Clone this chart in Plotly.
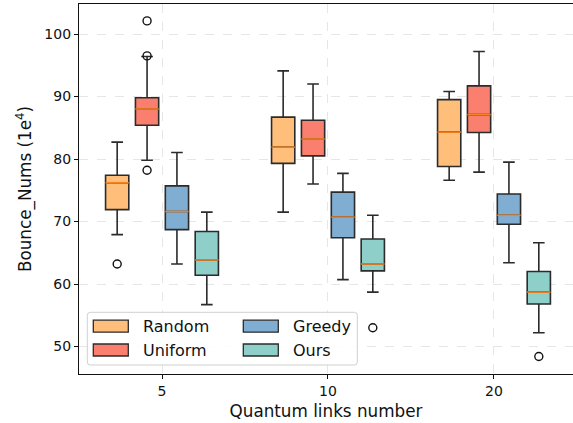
import plotly.graph_objects as go

# ---------------- data ----------------
groups = ["5", "10", "20"]
series = ["Random", "Uniform", "Greedy", "Ours"]
colors = ["#FFBE7A", "#FA7F6F", "#7FAED2", "#8ECFC9"]

lowerfence = {
    "Random": [67.9, 71.5, 76.6],
    "Uniform": [79.8, 76.0, 77.9],
    "Greedy": [63.2, 60.7, 63.4],
    "Ours": [56.7, 58.7, 52.2],
}
q1 = {
    "Random": [71.9, 79.3, 78.8],
    "Uniform": [85.4, 80.5, 84.25],
    "Greedy": [68.7, 67.4, 69.55],
    "Ours": [61.4, 62.1, 56.8],
}
median = {
    "Random": [76.2, 81.9, 84.3],
    "Uniform": [88.0, 83.2, 87.1],
    "Greedy": [71.6, 70.7, 71.0],
    "Ours": [63.85, 63.2, 58.7],
}
q3 = {
    "Random": [77.4, 86.7, 89.5],
    "Uniform": [89.8, 86.2, 91.7],
    "Greedy": [75.7, 74.7, 74.4],
    "Ours": [68.4, 67.2, 62.0],
}
upperfence = {
    "Random": [82.7, 94.1, 90.8],
    "Uniform": [96.4, 92.0, 97.2],
    "Greedy": [81.05, 77.7, 79.5],
    "Ours": [71.5, 71.0, 66.6],
}
# outliers: (group index, value)
outliers = {
    "Random": [(0, 63.2)],
    "Uniform": [(0, 102.1), (0, 96.5), (0, 78.2)],
    "Greedy": [],
    "Ours": [(1, 53.0), (2, 48.4)],
}

# ---------------- layout constants ----------------
offsets = [-0.27, -0.09, 0.09, 0.27]
box_w = 0.14
W, H = 573, 423
ml, mr, mt, mb = 79, 0, 4, 49
pw, ph = W - ml - mr, H - mt - mb

FONT = "DejaVu Sans"
EDGE = "#2b2b2b"

fig = go.Figure()

for s, c, off in zip(series, colors, offsets):
    xs = [i + off for i in range(len(groups))]
    fig.add_trace(go.Box(
        x=xs, q1=q1[s], median=median[s], q3=q3[s],
        lowerfence=lowerfence[s], upperfence=upperfence[s],
        width=box_w, whiskerwidth=0.5, boxpoints=False,
        fillcolor=c, line=dict(color=EDGE, width=1.6),
        name=s, showlegend=False, hoverinfo="skip",
    ))
    # median lines
    mx, my = [], []
    for x, m in zip(xs, median[s]):
        mx += [x - box_w / 2, x + box_w / 2, None]
        my += [m, m, None]
    fig.add_trace(go.Scatter(x=mx, y=my, mode="lines",
                             line=dict(color="#f5841f", width=1.6),
                             showlegend=False, hoverinfo="skip"))
    if outliers[s]:
        fig.add_trace(go.Scatter(
            x=[g + off for g, v in outliers[s]],
            y=[v for g, v in outliers[s]],
            mode="markers",
            marker=dict(symbol="circle-open", size=8, color="#111111",
                        line=dict(width=1.4)),
            showlegend=False, hoverinfo="skip"))

# ---------------- manual legend (pixel -> paper) ----------------
def px(x):
    return (x - ml) / pw

def py(y):
    return (H - mb - y) / ph

shapes = []
annotations = []
# frame
x0, x1, y0, y1, r = 87.3, 357.3, 312.3, 365.0, 3
path = (f"M {px(x0 + r)},{py(y0)} L {px(x1 - r)},{py(y0)} "
        f"Q {px(x1)},{py(y0)} {px(x1)},{py(y0 + r)} "
        f"L {px(x1)},{py(y1 - r)} Q {px(x1)},{py(y1)} {px(x1 - r)},{py(y1)} "
        f"L {px(x0 + r)},{py(y1)} Q {px(x0)},{py(y1)} {px(x0)},{py(y1 - r)} "
        f"L {px(x0)},{py(y0 + r)} Q {px(x0)},{py(y0)} {px(x0 + r)},{py(y0)} Z")
shapes.append(dict(type="path", xref="paper", yref="paper", path=path,
                   fillcolor="rgba(255,255,255,0.85)",
                   line=dict(color="#d0d0d0", width=1), layer="above"))
leg_pos = {  # column x of patch, row y center
    "Random": (93.3, 326.2), "Uniform": (93.3, 350.0),
    "Greedy": (243.3, 326.2), "Ours": (243.3, 350.0),
}
for s, c in zip(series, colors):
    lx, ly = leg_pos[s]
    shapes.append(dict(type="rect", xref="paper", yref="paper",
                       x0=px(lx), x1=px(lx + 35), y0=py(ly - 6), y1=py(ly + 6),
                       fillcolor=c, line=dict(color=EDGE, width=1.3), layer="above"))
    annotations.append(dict(xref="paper", yref="paper", x=px(lx + 48), y=py(ly),
                            text=s, showarrow=False, xanchor="left", yanchor="middle",
                            font=dict(family=FONT, size=16, color="#111111")))

fig.update_layout(
    width=W, height=H,
    margin=dict(l=ml, r=mr, t=mt, b=mb),
    paper_bgcolor="white", plot_bgcolor="white",
    boxmode="overlay",
    showlegend=False,
    shapes=shapes, annotations=annotations,
    xaxis=dict(
        range=[-0.5, 2.476], tickmode="array",
        tickvals=list(range(len(groups))), ticktext=groups,
        showline=True, linecolor="#111111", linewidth=1.3, mirror=True,
        ticks="outside", ticklen=4, tickcolor="#111111",
        showgrid=True, gridcolor="#e6e6e6", griddash="dash", gridwidth=1,
        zeroline=False,
        tickfont=dict(family=FONT, size=14, color="#111111"),
        title=dict(text="Quantum links number", standoff=7,
                   font=dict(family=FONT, size=16.8, color="#111111")),
    ),
    yaxis=dict(
        range=[45.6, 104.8], tickvals=[50, 60, 70, 80, 90, 100],
        showline=True, linecolor="#111111", linewidth=1.3,
        ticks="outside", ticklen=4, tickcolor="#111111",
        showgrid=True, gridcolor="#e6e6e6", griddash="dash", gridwidth=1,
        zeroline=False,
        tickfont=dict(family=FONT, size=14, color="#111111"),
        title=dict(text="Bounce_Nums (1e<sup>4</sup>)", standoff=8,
                   font=dict(family=FONT, size=16.8, color="#111111")),
    ),
)

fig.write_html("out.html")
